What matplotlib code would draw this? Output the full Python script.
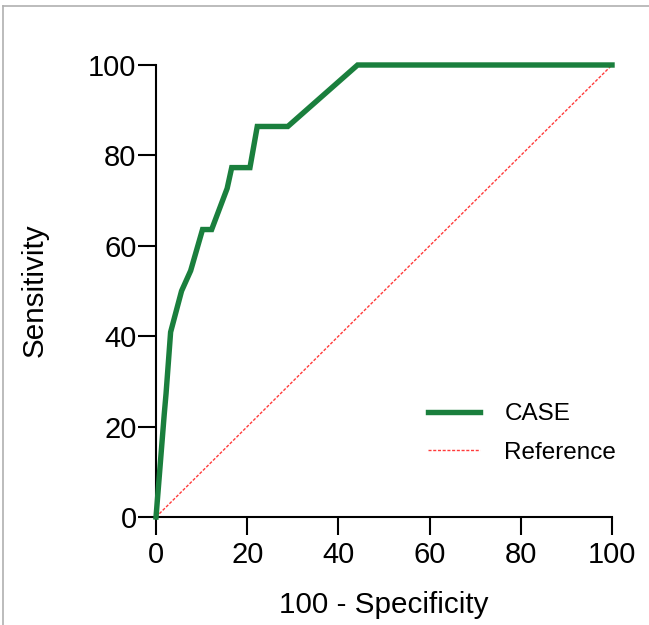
import matplotlib
matplotlib.use("Agg")
import matplotlib.pyplot as plt
from matplotlib.lines import Line2D

# ROC curve values (in %)
fpr = [0, 1.8, 2.2, 3.2, 5.6, 7.6, 10.2, 12.2, 15.6, 16.6, 20.6, 22.2, 28.9, 44.2, 100]
sens = [0, 22.7, 27.3, 40.9, 50.0, 54.5, 63.6, 63.6, 72.7, 77.3, 77.3, 86.4, 86.4, 100, 100]
ref_x = [0, 100]
ref_y = [0, 100]
ticks = [0, 20, 40, 60, 80, 100]

plt.rcParams["font.family"] = ["Liberation Sans", "DejaVu Sans"]

fig = plt.figure(figsize=(6.49, 6.25), dpi=100)
ax = fig.add_axes([0.2404, 0.1728, 0.7026, 0.7232])

ax.plot(fpr, sens, color="#1a7f3d", lw=3.9, label="CASE", clip_on=False,
        solid_joinstyle="miter", zorder=3)
ax.plot(ref_x, ref_y, color="#ff3b3b", lw=1.0, ls=(0, (2.2, 1.2)),
        label="Reference", clip_on=False, zorder=2)

ax.set_xlim(0, 100)
ax.set_ylim(0, 100)
ax.set_xticks(ticks)
ax.set_yticks(ticks)
ax.set_xticklabels([str(t) for t in ticks])
ax.set_yticklabels([str(t) for t in ticks])

for side in ["top", "right"]:
    ax.spines[side].set_visible(False)
for side in ["left", "bottom"]:
    ax.spines[side].set_linewidth(1.5)

ax.tick_params(axis="both", direction="out", length=13, width=1.5,
               labelsize=21, colors="black")
ax.tick_params(axis="x", pad=4)
ax.tick_params(axis="y", pad=1)

ax.set_xlabel("100 - Specificity", fontsize=21.3, va="center")
ax.set_ylabel("Sensitivity", fontsize=21.3, va="center")
ax.xaxis.set_label_coords(0.5, -0.195)
ax.yaxis.set_label_coords(-0.265, 0.502)

ax.legend(loc="upper left", bbox_to_anchor=(0.596, 0.252), frameon=False,
          fontsize=17.5, handlelength=2.15, handletextpad=1.0,
          labelspacing=0.68, borderpad=0, borderaxespad=0)

# thin grey frame at the top and left of the image
fig.add_artist(Line2D([0.005, 1.0], [0.991, 0.991], color="#b0b0b0", lw=1.2,
                      transform=fig.transFigure))
fig.add_artist(Line2D([0.005, 0.005], [0.0, 0.991], color="#b0b0b0", lw=1.2,
                      transform=fig.transFigure))

fig.savefig("out.png", dpi=100)
